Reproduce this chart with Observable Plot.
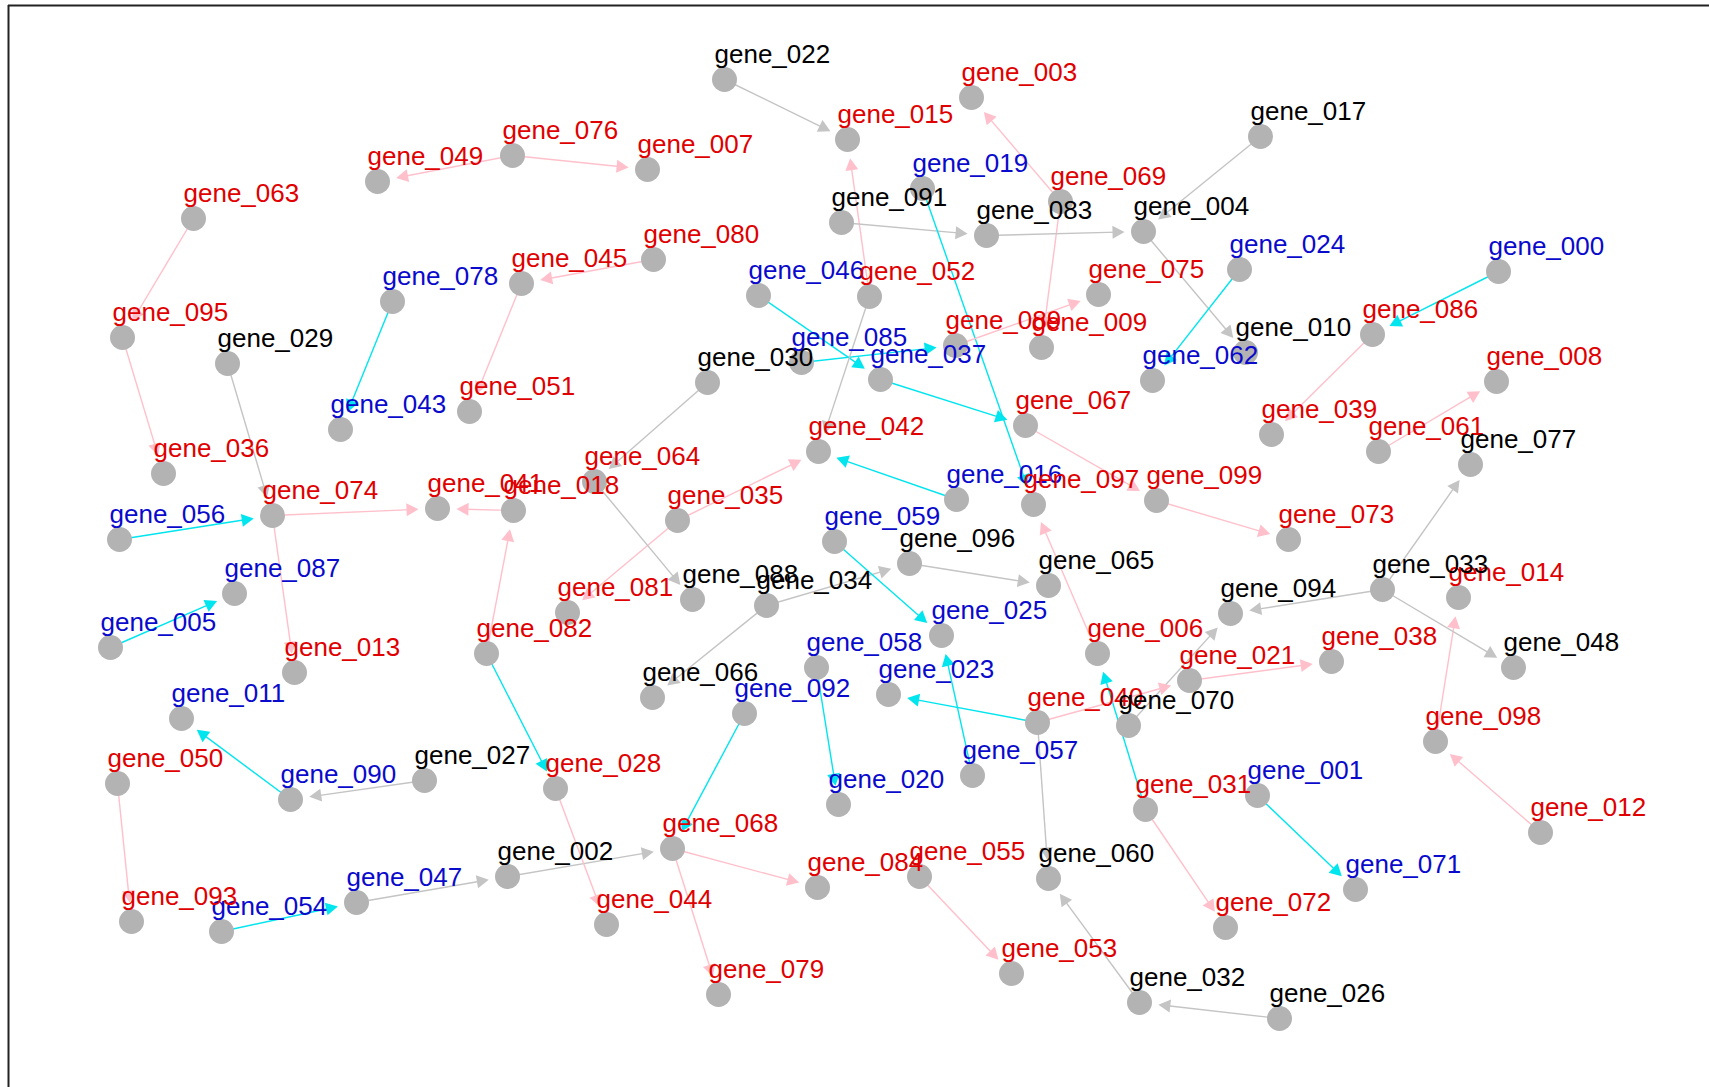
<!DOCTYPE html>
<html>
<head>
<meta charset="utf-8">
<script src="https://cdn.jsdelivr.net/npm/d3@7"></script>
<script src="https://cdn.jsdelivr.net/npm/@observablehq/plot@0.6"></script>
<style>
  html, body { margin: 0; padding: 0; background: #ffffff; }
  #chart svg { display: block; }
</style>
</head>
<body>
<div id="chart"></div>
<script>
// ---- Node data (layout coordinates) ----
const geneIds = [
  "gene_000","gene_001","gene_002","gene_003","gene_004","gene_005","gene_006","gene_007","gene_008","gene_009",
  "gene_010","gene_011","gene_012","gene_013","gene_014","gene_015","gene_016","gene_017","gene_018","gene_019",
  "gene_020","gene_021","gene_022","gene_023","gene_024","gene_025","gene_026","gene_027","gene_028","gene_029",
  "gene_030","gene_031","gene_032","gene_033","gene_034","gene_035","gene_036","gene_037","gene_038","gene_039",
  "gene_040","gene_041","gene_042","gene_043","gene_044","gene_045","gene_046","gene_047","gene_048","gene_049",
  "gene_050","gene_051","gene_052","gene_053","gene_054","gene_055","gene_056","gene_057","gene_058","gene_059",
  "gene_060","gene_061","gene_062","gene_063","gene_064","gene_065","gene_066","gene_067","gene_068","gene_069",
  "gene_070","gene_071","gene_072","gene_073","gene_074","gene_075","gene_076","gene_077","gene_078","gene_079",
  "gene_080","gene_081","gene_082","gene_083","gene_084","gene_085","gene_086","gene_087","gene_088","gene_089",
  "gene_090","gene_091","gene_092","gene_093","gene_094","gene_095","gene_096","gene_097","gene_098","gene_099"
];
const layoutX = [
  1498,1257,507,971,1143,110,1097,647,1496,1041,
  1245,181,1540,294,1458,847,956,1260,513,922,
  838,1189,724,888,1239,941,1279,424,555,227,
  707,1145,1139,1382,766,677,163,880,1331,1271,
  1037,437,818,340,606,521,758,356,1513,377,
  117,469,869,1011,221,919,119,972,816,834,
  1048,1378,1152,193,594,1048,652,1025,672,1060,
  1128,1355,1225,1288,272,1098,512,1470,392,718,
  653,567,486,986,817,801,1372,234,692,955,
  290,841,744,131,1230,122,909,1033,1435,1156
];
const layoutY = [
  271,795,876,97,231,647,653,169,381,347,
  352,718,832,672,597,139,499,136,510,188,
  804,680,79,694,269,635,1018,780,788,363,
  382,809,1002,589,605,520,473,379,661,434,
  722,508,451,429,924,283,295,902,667,181,
  783,411,296,973,931,876,539,775,667,541,
  878,451,380,218,481,585,697,425,848,201,
  725,889,927,539,515,294,155,464,301,994,
  259,612,653,235,887,362,334,593,599,345,
  799,222,713,921,613,337,563,504,741,500
];
// label class: "up" (red), "down" (blue), "none" (black)
const geneClass = [
  "down","down","none","up","none","down","up","up","up","up",
  "none","down","up","up","up","up","down","none","up","down",
  "down","up","none","down","down","down","none","none","up","none",
  "none","up","none","none","none","up","up","down","up","up",
  "up","up","up","down","up","up","down","down","none","up",
  "up","up","up","up","down","up","down","down","down","down",
  "none","up","down","up","up","none","none","up","up","up",
  "none","down","up","up","up","up","up","none","down","up",
  "up","up","up","none","up","down","up","down","none","up",
  "down","none","down","up","none","up","none","up","up","up"
];

// ---- Edge data (directed) ----
const edgeFrom = [
  "gene_076","gene_076","gene_063","gene_095","gene_078","gene_045","gene_080","gene_029","gene_056","gene_074",
  "gene_018","gene_082","gene_074","gene_022","gene_052","gene_069","gene_069","gene_091","gene_083","gene_017",
  "gene_004","gene_019","gene_046","gene_085","gene_037","gene_016","gene_030","gene_052","gene_067","gene_099",
  "gene_035","gene_035","gene_064","gene_006","gene_096","gene_034","gene_059","gene_034","gene_092","gene_058",
  "gene_057","gene_040","gene_040","gene_070","gene_031","gene_031","gene_001","gene_012","gene_098","gene_033",
  "gene_033","gene_033","gene_021","gene_040","gene_032","gene_026","gene_055","gene_068","gene_002","gene_068",
  "gene_028","gene_082","gene_027","gene_090","gene_005","gene_050","gene_054","gene_047","gene_024","gene_000",
  "gene_086","gene_061","gene_089"
];
const edgeTo = [
  "gene_049","gene_007","gene_095","gene_036","gene_043","gene_051","gene_045","gene_074","gene_074","gene_041",
  "gene_041","gene_018","gene_013","gene_015","gene_015","gene_003","gene_009","gene_083","gene_004","gene_004",
  "gene_010","gene_097","gene_037","gene_089","gene_067","gene_042","gene_064","gene_042","gene_099","gene_073",
  "gene_042","gene_081","gene_088","gene_097","gene_065","gene_096","gene_025","gene_066","gene_068","gene_020",
  "gene_025","gene_023","gene_021","gene_094","gene_006","gene_072","gene_071","gene_098","gene_014","gene_077",
  "gene_048","gene_094","gene_038","gene_060","gene_060","gene_032","gene_053","gene_084","gene_068","gene_079",
  "gene_044","gene_028","gene_090","gene_011","gene_087","gene_093","gene_047","gene_002","gene_062","gene_086",
  "gene_039","gene_008","gene_075"
];
// edge kind: "act" (pink), "inh" (cyan), "unk" (gray)
const edgeKind = [
  "act","act","act","act","inh","act","act","unk","inh","act",
  "act","act","act","unk","act","act","act","unk","unk","unk",
  "unk","inh","inh","inh","inh","inh","unk","unk","act","act",
  "act","act","unk","act","unk","unk","inh","unk","inh","inh",
  "inh","inh","act","unk","inh","act","inh","act","act","unk",
  "unk","unk","act","unk","unk","unk","act","act","unk","act",
  "act","inh","unk","inh","inh","act","inh","unk","inh","inh",
  "act","act","act"
];

// ---- Styles ----
const labelColor = {up: "#e00000", down: "#0a0acd", none: "#000000"};
const edgeColor = {act: "#ffc0cb", inh: "#00e5ee", unk: "#c4c4c4"};
const nodeFill = "#b3b3b3";
const nodeRadius = 12.5;
const tipGap = 19;      // distance from target centre to arrow tip
const headLength = 12;
const headHalfWidth = 6.5;
const W = 1709, H = 1087;
const frameLeft = 8, frameTop = 5;

const nodes = geneIds.map((id, i) => ({id, x: layoutX[i], y: layoutY[i], cls: geneClass[i]}));
const byId = new Map(nodes.map(n => [n.id, n]));

const edges = edgeFrom.map((s, i) => {
  const a = byId.get(s), b = byId.get(edgeTo[i]);
  const dx = b.x - a.x, dy = b.y - a.y;
  const len = Math.hypot(dx, dy);
  const ux = dx / len, uy = dy / len;
  const tx = b.x - ux * tipGap, ty = b.y - uy * tipGap;
  return {
    x1: a.x, y1: a.y,
    x2: tx - ux * headLength * 0.6, y2: ty - uy * headLength * 0.6,
    tx, ty,
    angle: Math.atan2(ux, -uy) * 180 / Math.PI,
    color: edgeColor[edgeKind[i]]
  };
});

const triangle = {
  draw(context, l, r) {
    context.moveTo(0, -l);
    context.lineTo(-r, 0);
    context.lineTo(r, 0);
    context.closePath();
  }
};

const chart = Plot.plot({
  width: W,
  height: H,
  margin: 0,
  x: {domain: [0, W], range: [0, W], axis: null},
  y: {domain: [0, H], range: [0, H], axis: null},
  color: {type: "identity"},
  style: {background: "#ffffff", overflow: "hidden"},
  marks: [
    Plot.ruleX([frameLeft], {y1: frameTop, y2: H, stroke: "#222", strokeWidth: 2}),
    Plot.ruleY([frameTop], {x1: frameLeft, x2: W, stroke: "#222", strokeWidth: 2}),
    Plot.link(edges, {x1: "x1", y1: "y1", x2: "x2", y2: "y2", stroke: "color", strokeWidth: 1.4}),
    Plot.vector(edges, {
      x: "tx", y: "ty", rotate: "angle", length: headLength, r: headHalfWidth,
      anchor: "end", shape: triangle, fill: "color", stroke: "none"
    }),
    Plot.dot(nodes, {x: "x", y: "y", r: nodeRadius, fill: nodeFill, stroke: "none"}),
    Plot.text(nodes, {
      x: "x", y: "y", text: "id",
      fill: d => labelColor[d.cls],
      textAnchor: "start", dx: -10, dy: -25,
      fontSize: 26, fontFamily: "Liberation Sans, Arial, sans-serif"
    })
  ]
});
document.getElementById("chart").appendChild(chart);
</script>
</body>
</html>
